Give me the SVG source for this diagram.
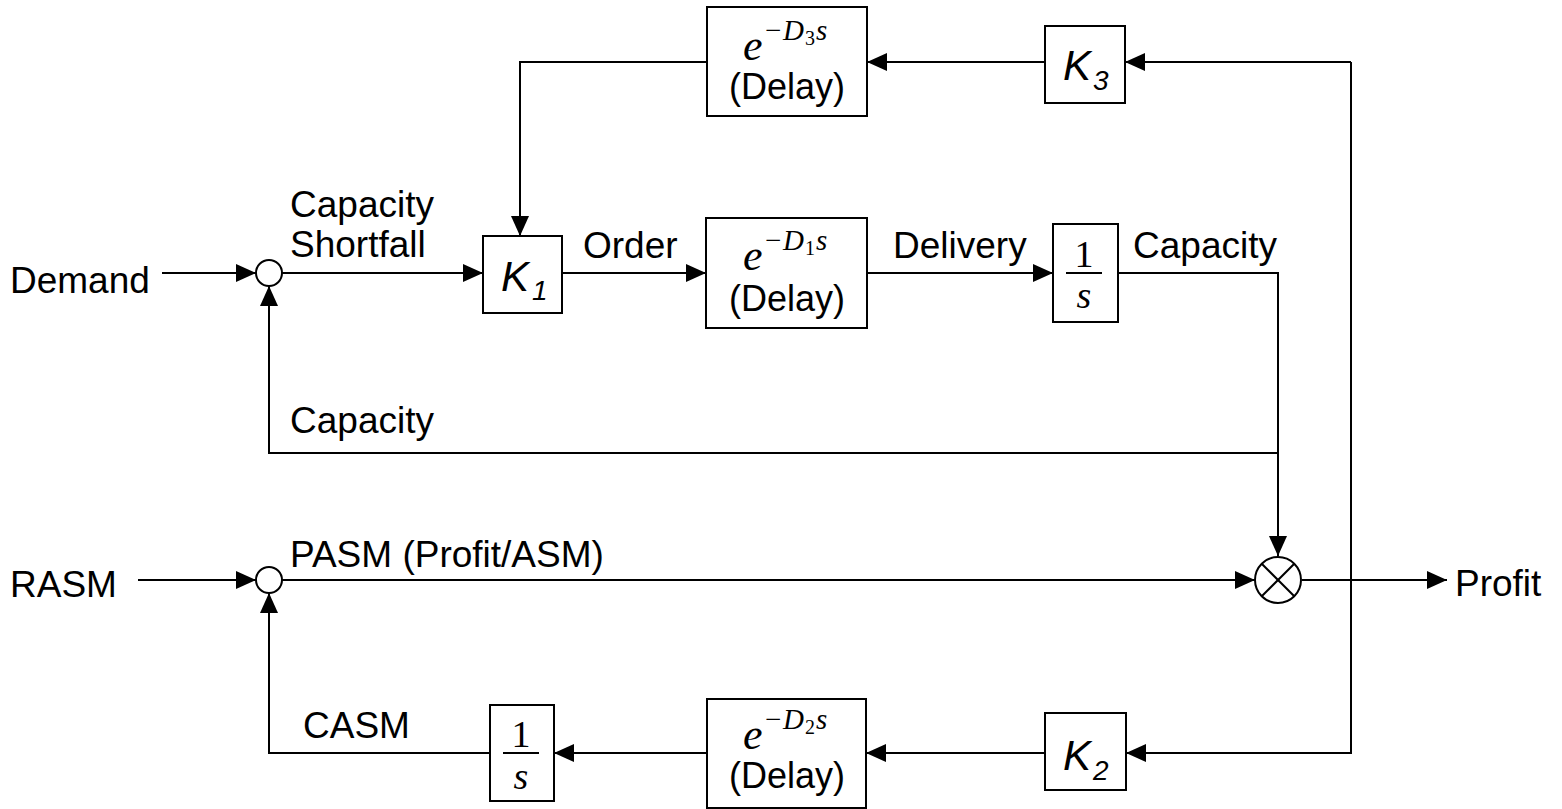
<svg xmlns="http://www.w3.org/2000/svg" width="1562" height="809" viewBox="0 0 1562 809">
<style>
.box{fill:#fff;stroke:#000;stroke-width:2}
.ln{fill:none;stroke:#000;stroke-width:2}
.lbl{font-family:"Liberation Sans",Arial,sans-serif;font-size:37px;fill:#000}
.dl{font-family:"Liberation Sans",Arial,sans-serif;font-size:36px;fill:#000}
.kk{font-family:"Liberation Sans",Arial,sans-serif;font-style:italic;font-size:42px;fill:#000}
.ks{font-family:"Liberation Sans",Arial,sans-serif;font-style:italic;font-size:28px;fill:#000}
.m{font-family:"Liberation Serif","Times New Roman",serif;fill:#000}
.ie{font-style:italic;font-size:44px}
.sup{font-size:29px}
.sub{font-size:20px}
.it{font-style:italic}
.fr{font-size:38px}
</style>
<defs>
<marker id="ah" viewBox="0 0 20 18" refX="20" refY="9" markerWidth="20" markerHeight="18" markerUnits="userSpaceOnUse" orient="auto">
<path d="M0,0 L20,9 L0,18 Z" fill="#000"/>
</marker>
</defs>

<g id="connectors">
<line class="ln" x1="162" y1="273" x2="256" y2="273" marker-end="url(#ah)"/>
<line class="ln" x1="282" y1="273" x2="483" y2="273" marker-end="url(#ah)"/>
<line class="ln" x1="562" y1="273" x2="706" y2="273" marker-end="url(#ah)"/>
<line class="ln" x1="867" y1="273" x2="1053" y2="273" marker-end="url(#ah)"/>
<polyline class="ln" points="1118,273 1278,273 1278,556" marker-end="url(#ah)"/>
<polyline class="ln" points="1278,453 269,453 269,286" marker-end="url(#ah)"/>
<line class="ln" x1="138" y1="580" x2="256" y2="580" marker-end="url(#ah)"/>
<line class="ln" x1="282" y1="580" x2="1255" y2="580" marker-end="url(#ah)"/>
<line class="ln" x1="1302" y1="580" x2="1447" y2="580" marker-end="url(#ah)"/>
<polyline class="ln" points="1351,62 1351,753 1126,753" marker-end="url(#ah)"/>
<line class="ln" x1="1351" y1="62" x2="1125" y2="62" marker-end="url(#ah)"/>
<line class="ln" x1="1045" y1="62" x2="867" y2="62" marker-end="url(#ah)"/>
<polyline class="ln" points="707,62 520,62 520,236" marker-end="url(#ah)"/>
<line class="ln" x1="1045" y1="753" x2="866" y2="753" marker-end="url(#ah)"/>
<line class="ln" x1="707" y1="753" x2="554" y2="753" marker-end="url(#ah)"/>
<polyline class="ln" points="490,753 269,753 269,593" marker-end="url(#ah)"/>
</g>

<g id="sum1"><circle class="box" cx="269" cy="273" r="13"/></g>
<g id="sum2"><circle class="box" cx="269" cy="580" r="13"/></g>
<g id="mult">
<circle class="box" cx="1278" cy="580" r="23"/>
<line class="ln" x1="1261.7" y1="563.7" x2="1294.3" y2="596.3"/>
<line class="ln" x1="1294.3" y1="563.7" x2="1261.7" y2="596.3"/>
</g>

<g id="k1">
<rect class="box" x="483" y="236" width="79" height="77"/>
<text class="kk" x="501" y="291">K</text><text class="ks" x="532" y="300">1</text>
</g>
<g id="k3">
<rect class="box" x="1045" y="26" width="80" height="77"/>
<text class="kk" x="1063" y="80">K</text><text class="ks" x="1093" y="90">3</text>
</g>
<g id="k2">
<rect class="box" x="1045" y="713" width="81" height="77"/>
<text class="kk" x="1063" y="770">K</text><text class="ks" x="1093" y="780">2</text>
</g>

<g id="delay3">
<rect class="box" x="707" y="7" width="160" height="109"/>
<text class="m ie" x="743" y="60">e</text>
<text class="m sup" x="765" y="40">−</text><text class="m sup it" x="783" y="40">D</text><text class="m sub" x="805" y="45">3</text><text class="m sup it" x="816" y="40">s</text>
<text class="dl" x="787" y="99" text-anchor="middle">(Delay)</text>
</g>
<g id="delay1">
<rect class="box" x="706" y="218" width="161" height="110"/>
<text class="m ie" x="743" y="270">e</text>
<text class="m sup" x="765" y="250">−</text><text class="m sup it" x="783" y="250">D</text><text class="m sub" x="805" y="255">1</text><text class="m sup it" x="816" y="250">s</text>
<text class="dl" x="787" y="311" text-anchor="middle">(Delay)</text>
</g>
<g id="delay2">
<rect class="box" x="707" y="699" width="159" height="109"/>
<text class="m ie" x="743" y="749">e</text>
<text class="m sup" x="765" y="729">−</text><text class="m sup it" x="783" y="729">D</text><text class="m sub" x="805" y="734">2</text><text class="m sup it" x="816" y="729">s</text>
<text class="dl" x="787" y="788" text-anchor="middle">(Delay)</text>
</g>

<g id="int1">
<rect class="box" x="1053" y="224" width="65" height="98"/>
<text class="m fr" x="1084" y="267" text-anchor="middle">1</text>
<line class="ln" x1="1066" y1="273" x2="1102" y2="273"/>
<text class="m fr it" x="1084" y="308" text-anchor="middle">s</text>
</g>
<g id="int2">
<rect class="box" x="490" y="705" width="64" height="96"/>
<text class="m fr" x="521" y="747" text-anchor="middle">1</text>
<line class="ln" x1="503" y1="753" x2="539" y2="753"/>
<text class="m fr it" x="521" y="789" text-anchor="middle">s</text>
</g>

<g id="labels">
<text class="lbl" x="10" y="293">Demand</text>
<text class="lbl" x="10" y="597">RASM</text>
<text class="lbl" x="1455" y="596">Profit</text>
<text class="lbl" x="290" y="217">Capacity</text>
<text class="lbl" x="290" y="257">Shortfall</text>
<text class="lbl" x="583" y="258">Order</text>
<text class="lbl" x="893" y="258">Delivery</text>
<text class="lbl" x="1133" y="258">Capacity</text>
<text class="lbl" x="290" y="433">Capacity</text>
<text class="lbl" x="290" y="567">PASM (Profit/ASM)</text>
<text class="lbl" x="303" y="738">CASM</text>
</g>
</svg>
